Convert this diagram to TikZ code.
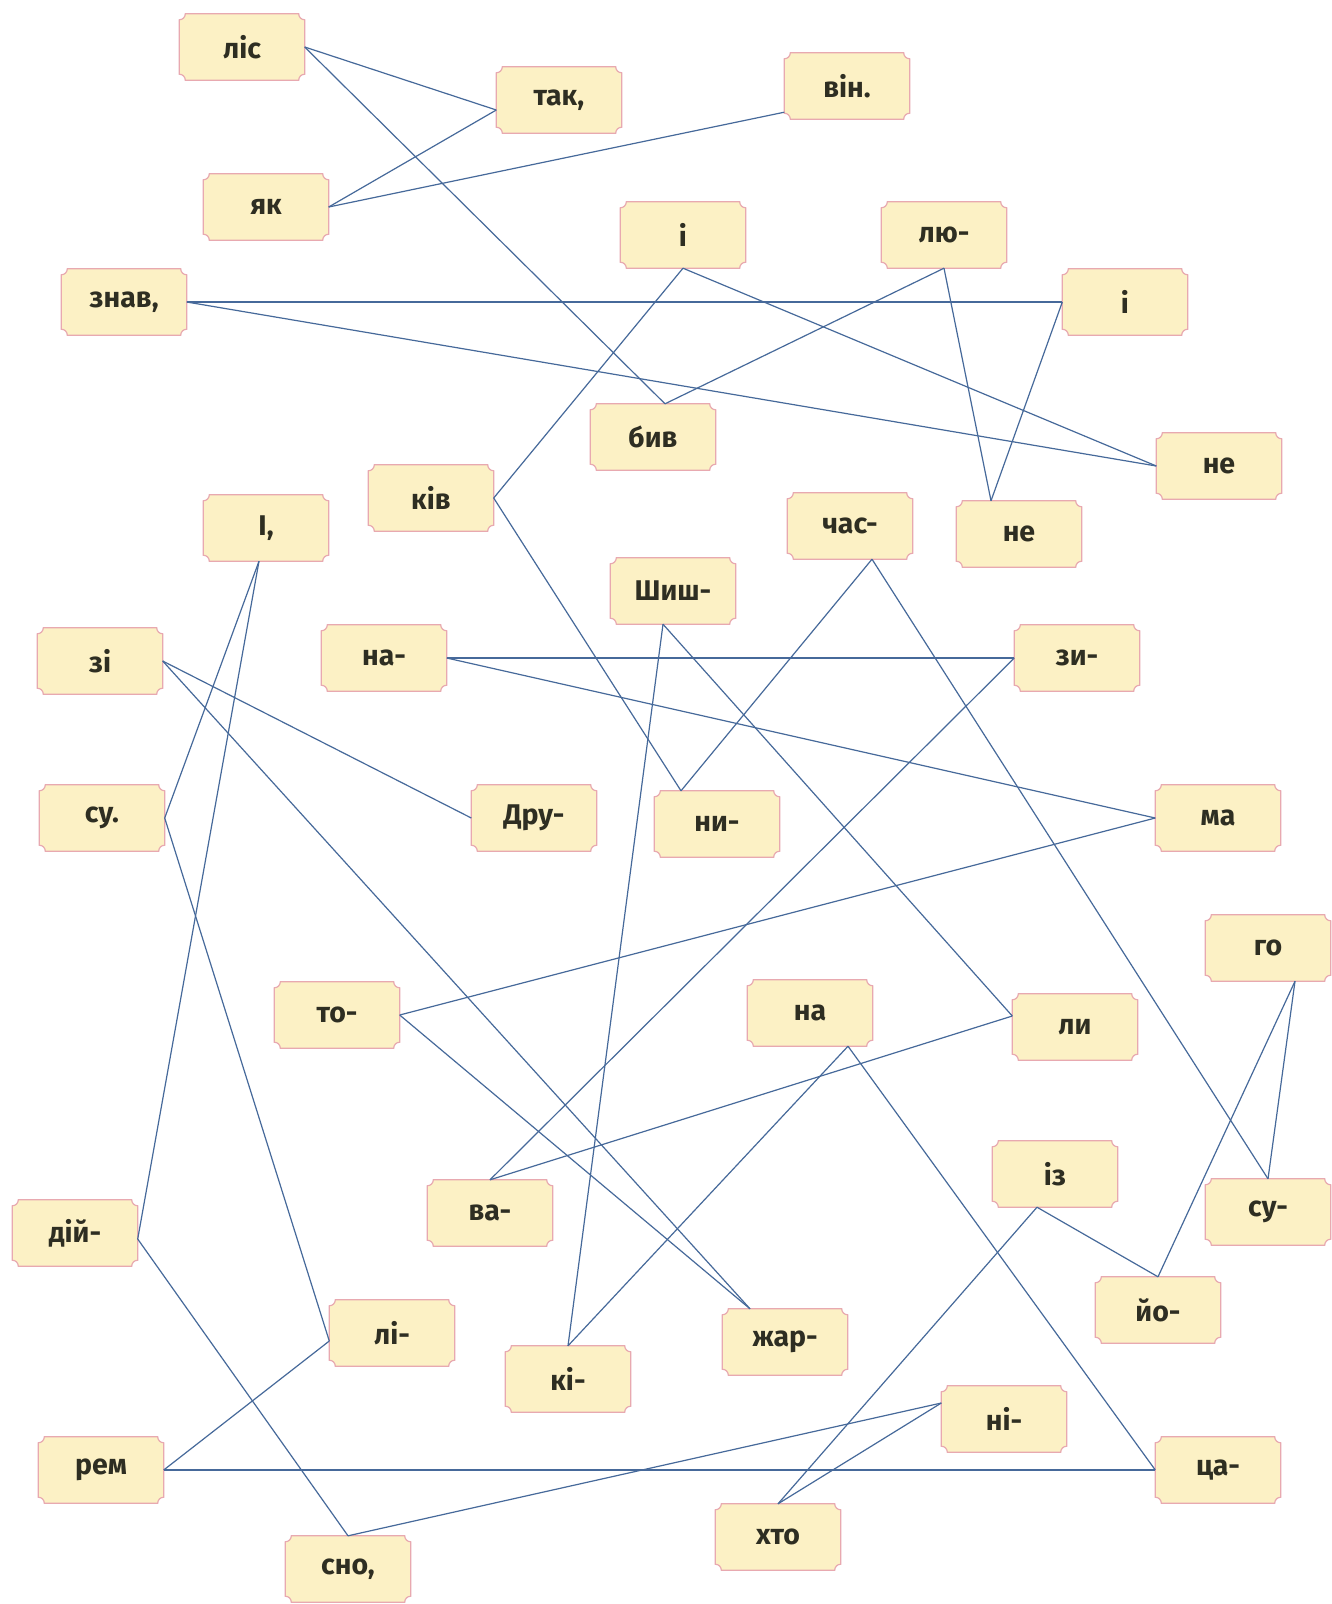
\documentclass[tikz,border=0pt]{standalone}
\usepackage{fontspec}
\setmainfont{Fira Sans}
\usepackage{xcolor}
\usepackage{tikz}
\usetikzlibrary{backgrounds, calc}

\definecolor{wordfill}{HTML}{FCF1C5}
\definecolor{wordedge}{HTML}{E8A9B0}
\definecolor{wordink}{HTML}{2E2E22}
\definecolor{linkblue}{HTML}{46699A}

\begin{document}
\begin{tikzpicture}[
  x=1pt, y=-1pt,
  every node/.style={font=\fontsize{28.5}{33}\selectfont\bfseries},
  word/.style={rectangle, minimum width=125pt, minimum height=66pt,
               inner sep=0pt, text=wordink},
  wordframe/.style={fill=wordfill, draw=wordedge, line width=1.2pt},
  link/.style={linkblue, line width=1.2pt},
]
  \useasboundingbox (0,0) rectangle (1332,1604);

  % words
  \node[word] (lis)    at (242,47)    {ліс};
  \node[word] (tak)    at (559,100)   {так,};
  \node[word] (vin)    at (847,86)    {він.};
  \node[word] (yak)    at (266,207)   {як};
  \node[word] (i1)     at (683,235)   {і};
  \node[word] (lyu)    at (944,235)   {лю-};
  \node[word] (znav)   at (124,302)   {знав,};
  \node[word] (i2)     at (1125,302)  {і};
  \node[word] (biv)    at (653,437)   {бив};
  \node[word] (ne1)    at (1219,466)  {не};
  \node[word] (kiv)    at (431,498)   {ків};
  \node[word] (icomma) at (266,528)   {І,};
  \node[word] (chas)   at (850,526)   {час-};
  \node[word] (ne2)    at (1019,534)  {не};
  \node[word] (shysh)  at (673,591)   {Шиш-};
  \node[word] (zi)     at (100,661)   {зі};
  \node[word] (na1)    at (384,658)   {на-};
  \node[word] (zy)     at (1077,658)  {зи-};
  \node[word] (su1)    at (102,818)   {су.};
  \node[word] (dru)    at (534,818)   {Дру-};
  \node[word] (ny)     at (717,824)   {ни-};
  \node[word] (ma)     at (1218,818)  {ма};
  \node[word] (go)     at (1268,948)  {го};
  \node[word] (to1)    at (337,1015)  {то-};
  \node[word] (na2)    at (810,1013)  {на};
  \node[word] (ly)     at (1075,1027) {ли};
  \node[word] (iz)     at (1055,1174) {із};
  \node[word] (va)     at (490,1213)  {ва-};
  \node[word] (su2)    at (1268,1212) {су-};
  \node[word] (diy)    at (75,1233)   {дій-};
  \node[word] (yo)     at (1158,1310) {йо-};
  \node[word] (li)     at (392,1333)  {лі-};
  \node[word] (zhar)   at (785,1342)  {жар-};
  \node[word] (ki)     at (568,1379)  {кі-};
  \node[word] (ni)     at (1004,1419) {ні-};
  \node[word] (rem)    at (101,1470)  {рем};
  \node[word] (tsa)    at (1218,1470) {ца-};
  \node[word] (khto)   at (778,1537)  {хто};
  \node[word] (sno)    at (348,1569)  {сно,};

  % frames with notched corners
  \begin{scope}[on background layer]
    \fill[white] (0,0) rectangle (1332,1604);
    \foreach \w in {lis,tak,vin,yak,i1,lyu,znav,i2,biv,ne1,kiv,icomma,chas,
                    ne2,shysh,zi,na1,zy,su1,dru,ny,ma,go,to1,na2,ly,iz,va,
                    su2,diy,yo,li,zhar,ki,ni,rem,tsa,khto,sno}
      \path[wordframe] ([yshift=-6pt]\w.north west)
          arc[start angle=-90, end angle=0, radius=6pt]
        -- ([xshift=-6pt]\w.north east)
          arc[start angle=180, end angle=270, radius=6pt]
        -- ([yshift=6pt]\w.south east)
          arc[start angle=90, end angle=180, radius=6pt]
        -- ([xshift=6pt]\w.south west)
          arc[start angle=0, end angle=90, radius=6pt]
        -- cycle;
  \end{scope}

  % ports off the middle of a side
  \coordinate (takp)    at ([yshift=-10pt]tak.west);
  \coordinate (vinp)    at ([yshift=7pt]vin.south west);
  \coordinate (bivp)    at ([xshift=12pt]biv.north);
  \coordinate (ne2p)    at ([xshift=-28pt]ne2.north);
  \coordinate (nyp)     at ([xshift=-36pt]ny.north);
  \coordinate (chasp)   at ([xshift=22pt]chas.south);
  \coordinate (icommap) at ([xshift=-7pt]icomma.south);
  \coordinate (diyp)    at ([yshift=-6pt]diy.east);
  \coordinate (lip)     at ([yshift=-8pt]li.west);
  \coordinate (zharp)   at ([xshift=-35pt]zhar.north);
  \coordinate (shyshp)  at ([xshift=-10pt]shysh.south);
  \coordinate (lyp)     at ([yshift=11pt]ly.west);
  \coordinate (na2p)    at ([xshift=38pt]na2.south);
  \coordinate (gop)     at ([xshift=27pt]go.south);
  \coordinate (izp)     at ([xshift=-18pt]iz.south);
  \coordinate (nip)     at ([yshift=16pt]ni.west);

  % links
  \foreach \a/\b in {lis.east/takp, lis.east/bivp, yak.east/takp,
                     yak.east/vinp, znav.east/i2.west, znav.east/ne1.west,
                     i1.south/ne1.west, i1.south/kiv.east, lyu.south/bivp,
                     lyu.south/ne2p, i2.west/ne2p, kiv.east/nyp, chasp/nyp,
                     chasp/su2.north, icommap/su1.east, icommap/diyp,
                     zi.east/dru.west, zi.east/zharp, na1.east/zy.west,
                     na1.east/ma.west, shyshp/ki.north, shyshp/lyp,
                     zy.west/va.north, ma.west/to1.east, su1.east/lip,
                     to1.east/zharp, na2p/ki.north, na2p/tsa.west,
                     lyp/va.north, gop/su2.north, gop/yo.north,
                     izp/yo.north, izp/khto.north, diyp/sno.north,
                     lip/rem.east, rem.east/tsa.west, nip/sno.north,
                     nip/khto.north}
    \draw[link] (\a) -- (\b);

\end{tikzpicture}
\end{document}
